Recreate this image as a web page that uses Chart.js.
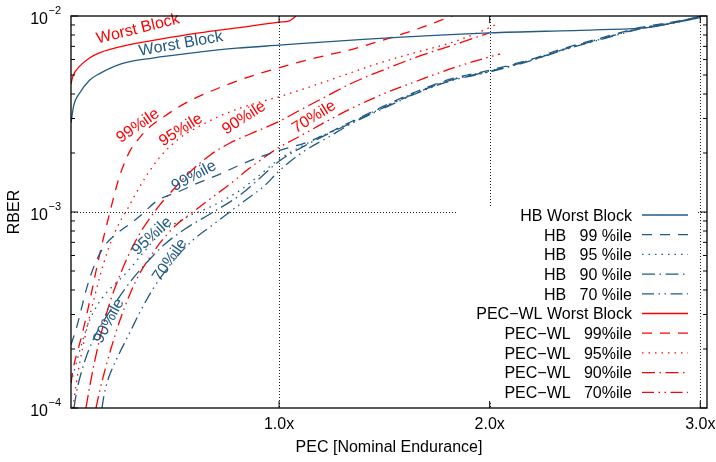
<!DOCTYPE html>
<html><head><meta charset="utf-8">
<script src="https://cdn.jsdelivr.net/npm/chart.js@4.4.1/dist/chart.umd.min.js"></script>
<style>html,body{margin:0;padding:0;background:#fff}canvas{display:block}</style>
</head><body>
<canvas id="c" width="716" height="462"></canvas>
<script>
// ---------- data (PEC in nominal-endurance units, RBER) ----------
const hbWorstX = [0.012, 0.025, 0.05, 0.1, 0.15, 0.25, 0.4, 0.6, 0.8, 1.0, 1.4, 2.0, 2.5, 2.76, 3.0];
const hbWorstY = [2.85e-3, 3.5e-3, 4.0e-3, 4.7e-3, 5.1e-3, 5.7e-3, 6.1e-3, 6.5e-3, 6.85e-3, 7.1e-3, 7.6e-3, 8.2e-3, 8.5e-3, 8.75e-3, 9.95e-3];

const hb99X = [0.012, 0.0404, 0.0879, 0.1259, 0.1639, 0.2209, 0.2779, 0.3397, 0.4204, 0.5297, 0.6247, 0.7197, 0.8147, 0.9097, 0.9952, 1.1473, 1.3373, 1.494, 1.6556, 1.8124, 1.9976, 2.1924, 2.3682, 2.5392, 2.715, 2.8575, 3.0];
const hb99Y = [2.10e-4, 2.62e-4, 4.14e-4, 5.43e-4, 6.55e-4, 7.63e-4, 8.48e-4, 9.54e-4, 1.14e-3, 1.28e-3, 1.42e-3, 1.56e-3, 1.74e-3, 1.91e-3, 2.05e-3, 2.30e-3, 2.87e-3, 3.46e-3, 4.13e-3, 4.76e-3, 5.28e-3, 6.00e-3, 6.92e-3, 7.78e-3, 8.74e-3, 9.26e-3, 9.90e-3];

const hb95X = [0.012, 0.0309, 0.0546, 0.0879, 0.1164, 0.1639, 0.1971, 0.2779, 0.3539, 0.4347, 0.5629, 0.6722, 0.8147, 0.9097, 0.9952, 1.1473, 1.3373, 1.494, 1.6556, 1.8124, 1.9976, 2.1924, 2.3682, 2.5392, 2.715, 2.8575, 3.0];
const hb95Y = [1.34e-4, 1.60e-4, 1.98e-4, 2.59e-4, 3.05e-4, 3.69e-4, 4.05e-4, 4.94e-4, 6.18e-4, 7.72e-4, 9.43e-4, 1.06e-3, 1.29e-3, 1.55e-3, 1.84e-3, 2.28e-3, 2.85e-3, 3.43e-3, 4.10e-3, 4.72e-3, 5.24e-3, 5.96e-3, 6.87e-3, 7.72e-3, 8.69e-3, 9.21e-3, 9.85e-3];

const hb90X = [0.0261, 0.0404, 0.0641, 0.0926, 0.1259, 0.1639, 0.2067, 0.2542, 0.3159, 0.3872, 0.4584, 0.5534, 0.6722, 0.8147, 0.9097, 0.9952, 1.1473, 1.3373, 1.494, 1.6556, 1.8124, 1.9976, 2.1924, 2.3682, 2.5392, 2.715, 2.8575, 3.0];
const hb90Y = [1.0e-4, 1.24e-4, 1.56e-4, 1.93e-4, 2.33e-4, 2.75e-4, 3.24e-4, 3.86e-4, 4.72e-4, 5.76e-4, 6.87e-4, 8.19e-4, 9.77e-4, 1.22e-3, 1.49e-3, 1.80e-3, 2.25e-3, 2.83e-3, 3.40e-3, 4.07e-3, 4.69e-3, 5.21e-3, 5.93e-3, 6.83e-3, 7.68e-3, 8.64e-3, 9.17e-3, 9.82e-3];

const hb70X = [0.1591, 0.1686, 0.1829, 0.1971, 0.2447, 0.2922, 0.3397, 0.4014, 0.4822, 0.5914, 0.6722, 0.7529, 0.848, 0.9335, 0.9952, 1.0998, 1.2423, 1.3373, 1.494, 1.6556, 1.8124, 1.9976, 2.1924, 2.3682, 2.5392, 2.715, 2.8575, 3.0];
const hb70Y = [1.0e-4, 1.16e-4, 1.34e-4, 1.49e-4, 1.93e-4, 2.44e-4, 3.09e-4, 4.05e-4, 5.37e-4, 7.20e-4, 8.39e-4, 9.77e-4, 1.165e-3, 1.37e-3, 1.60e-3, 1.98e-3, 2.44e-3, 2.80e-3, 3.37e-3, 4.04e-3, 4.66e-3, 5.18e-3, 5.90e-3, 6.80e-3, 7.64e-3, 8.60e-3, 9.14e-3, 9.80e-3];

const pwWorstX = [0.012, 0.02, 0.05, 0.1, 0.15, 0.28, 0.43, 0.62, 0.8, 1.0, 1.05, 1.065, 1.08];
const pwWorstY = [4.5e-3, 4.9e-3, 5.5e-3, 6.1e-3, 6.5e-3, 7.1e-3, 7.6e-3, 8.2e-3, 8.7e-3, 9.3e-3, 9.45e-3, 9.7e-3, 1.0e-2];

const pw99X = [0.012, 0.026, 0.045, 0.064, 0.102, 0.14, 0.173, 0.197, 0.221, 0.245, 0.268, 0.292, 0.34, 0.387, 0.458, 0.53, 0.625, 0.815, 0.995, 1.228, 1.337, 1.494, 1.656, 1.822];
const pw99Y = [1.34e-4, 1.66e-4, 1.98e-4, 2.36e-4, 3.56e-4, 5.56e-4, 7.91e-4, 1.0e-3, 1.265e-3, 1.55e-3, 1.80e-3, 2.05e-3, 2.41e-3, 2.72e-3, 3.09e-3, 3.47e-3, 3.91e-3, 4.72e-3, 5.43e-3, 6.32e-3, 6.71e-3, 7.54e-3, 8.58e-3, 1.0e-2];

const pw95X = [0.0214, 0.0356, 0.0546, 0.0784, 0.1021, 0.1259, 0.1496, 0.1876, 0.2209, 0.2542, 0.2827, 0.3159, 0.3634, 0.4347, 0.5297, 0.6247, 0.7197, 0.8147, 0.9097, 0.9952, 1.0998, 1.228, 1.3373, 1.494, 1.6556, 1.8124, 1.9406, 2.0356];
const pw95Y = [1.0e-4, 1.31e-4, 1.72e-4, 2.30e-4, 2.98e-4, 3.77e-4, 4.72e-4, 6.40e-4, 7.91e-4, 9.32e-4, 1.048e-3, 1.22e-3, 1.49e-3, 1.91e-3, 2.39e-3, 2.75e-3, 3.09e-3, 3.39e-3, 3.64e-3, 3.86e-3, 4.19e-3, 4.66e-3, 5.12e-3, 5.83e-3, 6.55e-3, 7.28e-3, 8.19e-3, 9.10e-3];

const pw90X = [0.0831, 0.1021, 0.1259, 0.1496, 0.1971, 0.2447, 0.2922, 0.3397, 0.3872, 0.4347, 0.5059, 0.5772, 0.6722, 0.7672, 0.8622, 0.9952, 1.0998, 1.228, 1.3373, 1.494, 1.6556, 1.8124, 1.9976];
const pw90Y = [1.0e-4, 1.31e-4, 1.76e-4, 2.28e-4, 3.47e-4, 4.77e-4, 6.25e-4, 7.81e-4, 9.32e-4, 1.09e-3, 1.33e-3, 1.60e-3, 1.95e-3, 2.25e-3, 2.50e-3, 2.88e-3, 3.31e-3, 3.91e-3, 4.50e-3, 5.30e-3, 6.18e-3, 7.03e-3, 8.19e-3];

const pw70X = [0.1306, 0.1496, 0.1734, 0.1971, 0.2447, 0.2922, 0.3397, 0.3872, 0.4347, 0.5059, 0.5914, 0.6722, 0.7672, 0.8622, 0.9952, 1.0998, 1.228, 1.3373, 1.494, 1.6556, 1.8124, 1.9976, 2.0499];
const pw70Y = [1.0e-4, 1.24e-4, 1.56e-4, 1.93e-4, 2.81e-4, 3.82e-4, 4.89e-4, 5.89e-4, 6.95e-4, 8.48e-4, 1.0e-3, 1.165e-3, 1.39e-3, 1.68e-3, 2.12e-3, 2.44e-3, 2.91e-3, 3.35e-3, 4.0e-3, 4.66e-3, 5.37e-3, 6.18e-3, 6.40e-3];

const legendLabels = ['HB Worst Block', 'HB   99 %ile', 'HB   95 %ile', 'HB   90 %ile', 'HB   70 %ile',
  'PEC\u2212WL Worst Block', 'PEC\u2212WL   99%ile', 'PEC\u2212WL   95%ile', 'PEC\u2212WL   90%ile', 'PEC\u2212WL   70%ile'];
const xTicks = [1, 2, 3];
const xTickLabels = ['1.0x', '2.0x', '3.0x'];
const yTickExponents = [-4, -3, -2];
const xGridValues = [1, 2, 3];
const yGridValues = [1e-3];
const xTitle = 'PEC [Nominal Endurance]';
const yTitle = 'RBER';

// ---------- styles ----------
const BLUE = '#215a84';
const RED = '#ff0000';
const FONT = '"Liberation Sans", Arial, Helvetica, sans-serif';
const SOLID = [], DASHED = [10, 8], DOTTED = [1.5, 5], DASHDOT = [13, 4.5, 1.5, 4.5], DASHDOTDOT = [12, 4.5, 1.5, 4.5, 1.5, 4.5];

const curveLabels = [
  {text: 'Worst Block', x: 0.330, y: 8.58e-3, angle: 14, color: RED},
  {text: 'Worst Block', x: 0.534, y: 7.20e-3, angle: 10, color: BLUE},
  {text: '99%ile', x: 0.330, y: 2.75e-3, angle: 35, color: RED},
  {text: '95%ile', x: 0.534, y: 2.62e-3, angle: 32, color: RED},
  {text: '90%ile', x: 0.834, y: 3.02e-3, angle: 33, color: RED},
  {text: '70%ile', x: 1.166, y: 3.05e-3, angle: 32, color: RED},
  {text: '99%ile', x: 0.596, y: 1.527e-3, angle: 28, color: BLUE},
  {text: '95%ile', x: 0.397, y: 7.54e-4, angle: 43, color: BLUE},
  {text: '70%ile', x: 0.482, y: 5.69e-4, angle: 55, color: BLUE},
  {text: '90%ile', x: 0.192, y: 2.78e-4, angle: 62, color: BLUE}
];

const seriesDefs = [
  [hbWorstX, hbWorstY, BLUE, SOLID],
  [hb99X, hb99Y, BLUE, DASHED],
  [hb95X, hb95Y, BLUE, DOTTED],
  [hb90X, hb90Y, BLUE, DASHDOT],
  [hb70X, hb70Y, BLUE, DASHDOTDOT],
  [pwWorstX, pwWorstY, RED, SOLID],
  [pw99X, pw99Y, RED, DASHED],
  [pw95X, pw95Y, RED, DOTTED],
  [pw90X, pw90Y, RED, DASHDOT],
  [pw70X, pw70Y, RED, DASHDOTDOT]
];

const datasets = seriesDefs.map((s, i) => ({
  label: legendLabels[i],
  data: s[0].map((x, j) => ({x: x, y: s[1][j]})),
  borderColor: s[2],
  borderDash: s[3],
  borderWidth: 1.3,
  pointRadius: 0,
  fill: false,
  cubicInterpolationMode: 'monotone'
}));

function seg(ctx, x1, y1, x2, y2) { ctx.beginPath(); ctx.moveTo(x1, y1); ctx.lineTo(x2, y2); ctx.stroke(); }

const gnuplotLook = {
  id: 'gnuplotLook',
  beforeDatasetsDraw(chart) {
    const {ctx, chartArea: a, scales: {x, y}} = chart;
    ctx.save();
    ctx.strokeStyle = '#222'; ctx.lineWidth = 1; ctx.setLineDash([1, 2]);
    xGridValues.forEach(v => { const px = Math.round(x.getPixelForValue(v)) + 0.5; seg(ctx, px, a.top, px, a.bottom); });
    yGridValues.forEach(v => { const py = Math.round(y.getPixelForValue(v)) + 0.5; seg(ctx, a.left, py, a.right, py); });
    ctx.restore();
  },
  afterDatasetsDraw(chart) {
    const {ctx, chartArea: a, scales: {x, y}} = chart;
    ctx.save();
    // opaque key box
    const keyLeft = 456, keyTop = 207, keyRight = x.getPixelForValue(3) - 3, keyBottom = 401;
    ctx.fillStyle = '#fff';
    ctx.fillRect(keyLeft, keyTop, keyRight - keyLeft, keyBottom - keyTop);
    // key entries
    ctx.font = '16px ' + FONT;
    ctx.textAlign = 'right'; ctx.textBaseline = 'alphabetic';
    chart.data.datasets.forEach((ds, i) => {
      const ry = 215 + i * 19.7;
      ctx.fillStyle = '#000';
      ctx.fillText(ds.label, 632, ry + 5.8);
      ctx.strokeStyle = ds.borderColor; ctx.lineWidth = 1.3; ctx.setLineDash(ds.borderDash);
      seg(ctx, 642, ry, 688, ry);
    });
    ctx.setLineDash([]);
    // curve labels
    ctx.textAlign = 'center'; ctx.textBaseline = 'middle';
    curveLabels.forEach(l => {
      ctx.save();
      ctx.translate(x.getPixelForValue(l.x), y.getPixelForValue(l.y));
      ctx.rotate(-l.angle * Math.PI / 180);
      ctx.fillStyle = l.color;
      ctx.fillText(l.text, 0, 0);
      ctx.restore();
    });
    // border
    ctx.strokeStyle = '#000'; ctx.lineWidth = 1.3;
    ctx.strokeRect(a.left, a.top, a.right - a.left, a.bottom - a.top);
    // y ticks (log, mirrored, inward)
    ctx.lineWidth = 1;
    yTickExponents.forEach((e, k) => {
      const py = y.getPixelForValue(Math.pow(10, e));
      seg(ctx, a.left, py, a.left + 7, py); seg(ctx, a.right, py, a.right - 7, py);
      if (k < yTickExponents.length - 1) {
        for (let m = 2; m <= 9; m++) {
          const pm = y.getPixelForValue(m * Math.pow(10, e));
          seg(ctx, a.left, pm, a.left + 4, pm); seg(ctx, a.right, pm, a.right - 4, pm);
        }
      }
    });
    // x ticks
    xTicks.forEach(v => {
      const px = x.getPixelForValue(v);
      seg(ctx, px, a.bottom, px, a.bottom - 7); seg(ctx, px, a.top, px, a.top + 7);
    });
    // tick labels
    ctx.fillStyle = '#000';
    ctx.textBaseline = 'alphabetic';
    ctx.textAlign = 'center';
    ctx.font = '16px ' + FONT;
    xTicks.forEach((v, i) => ctx.fillText(xTickLabels[i], x.getPixelForValue(v), 429));
    yTickExponents.forEach(e => {
      const py = y.getPixelForValue(Math.pow(10, e));
      const sup = '\u2212' + Math.abs(e);
      ctx.font = '11px ' + FONT;
      const sw = ctx.measureText(sup).width;
      ctx.textAlign = 'right';
      ctx.fillText(sup, 61, py - 2);
      ctx.font = '16px ' + FONT;
      ctx.fillText('10', 61 - sw - 0.5, py + 8);
    });
    // axis titles
    ctx.textAlign = 'center';
    ctx.font = '16px ' + FONT;
    ctx.fillText(xTitle, (a.left + a.right) / 2, 452);
    ctx.save();
    ctx.translate(19, (a.top + a.bottom) / 2);
    ctx.rotate(-Math.PI / 2);
    ctx.fillText(yTitle, 0, 0);
    ctx.restore();
    ctx.restore();
  }
};

new Chart(document.getElementById('c'), {
  type: 'line',
  data: {datasets: datasets},
  options: {
    responsive: false,
    animation: false,
    devicePixelRatio: 1,
    layout: {padding: {left: 71, right: 9, top: 16, bottom: 54}},
    plugins: {legend: {display: false}, tooltip: {enabled: false}, title: {display: false}},
    scales: {
      x: {type: 'linear', min: 0.012, max: 3.032, display: false},
      y: {type: 'logarithmic', min: 1e-4, max: 1e-2, display: false}
    }
  },
  plugins: [gnuplotLook]
});
</script>
</body></html>
